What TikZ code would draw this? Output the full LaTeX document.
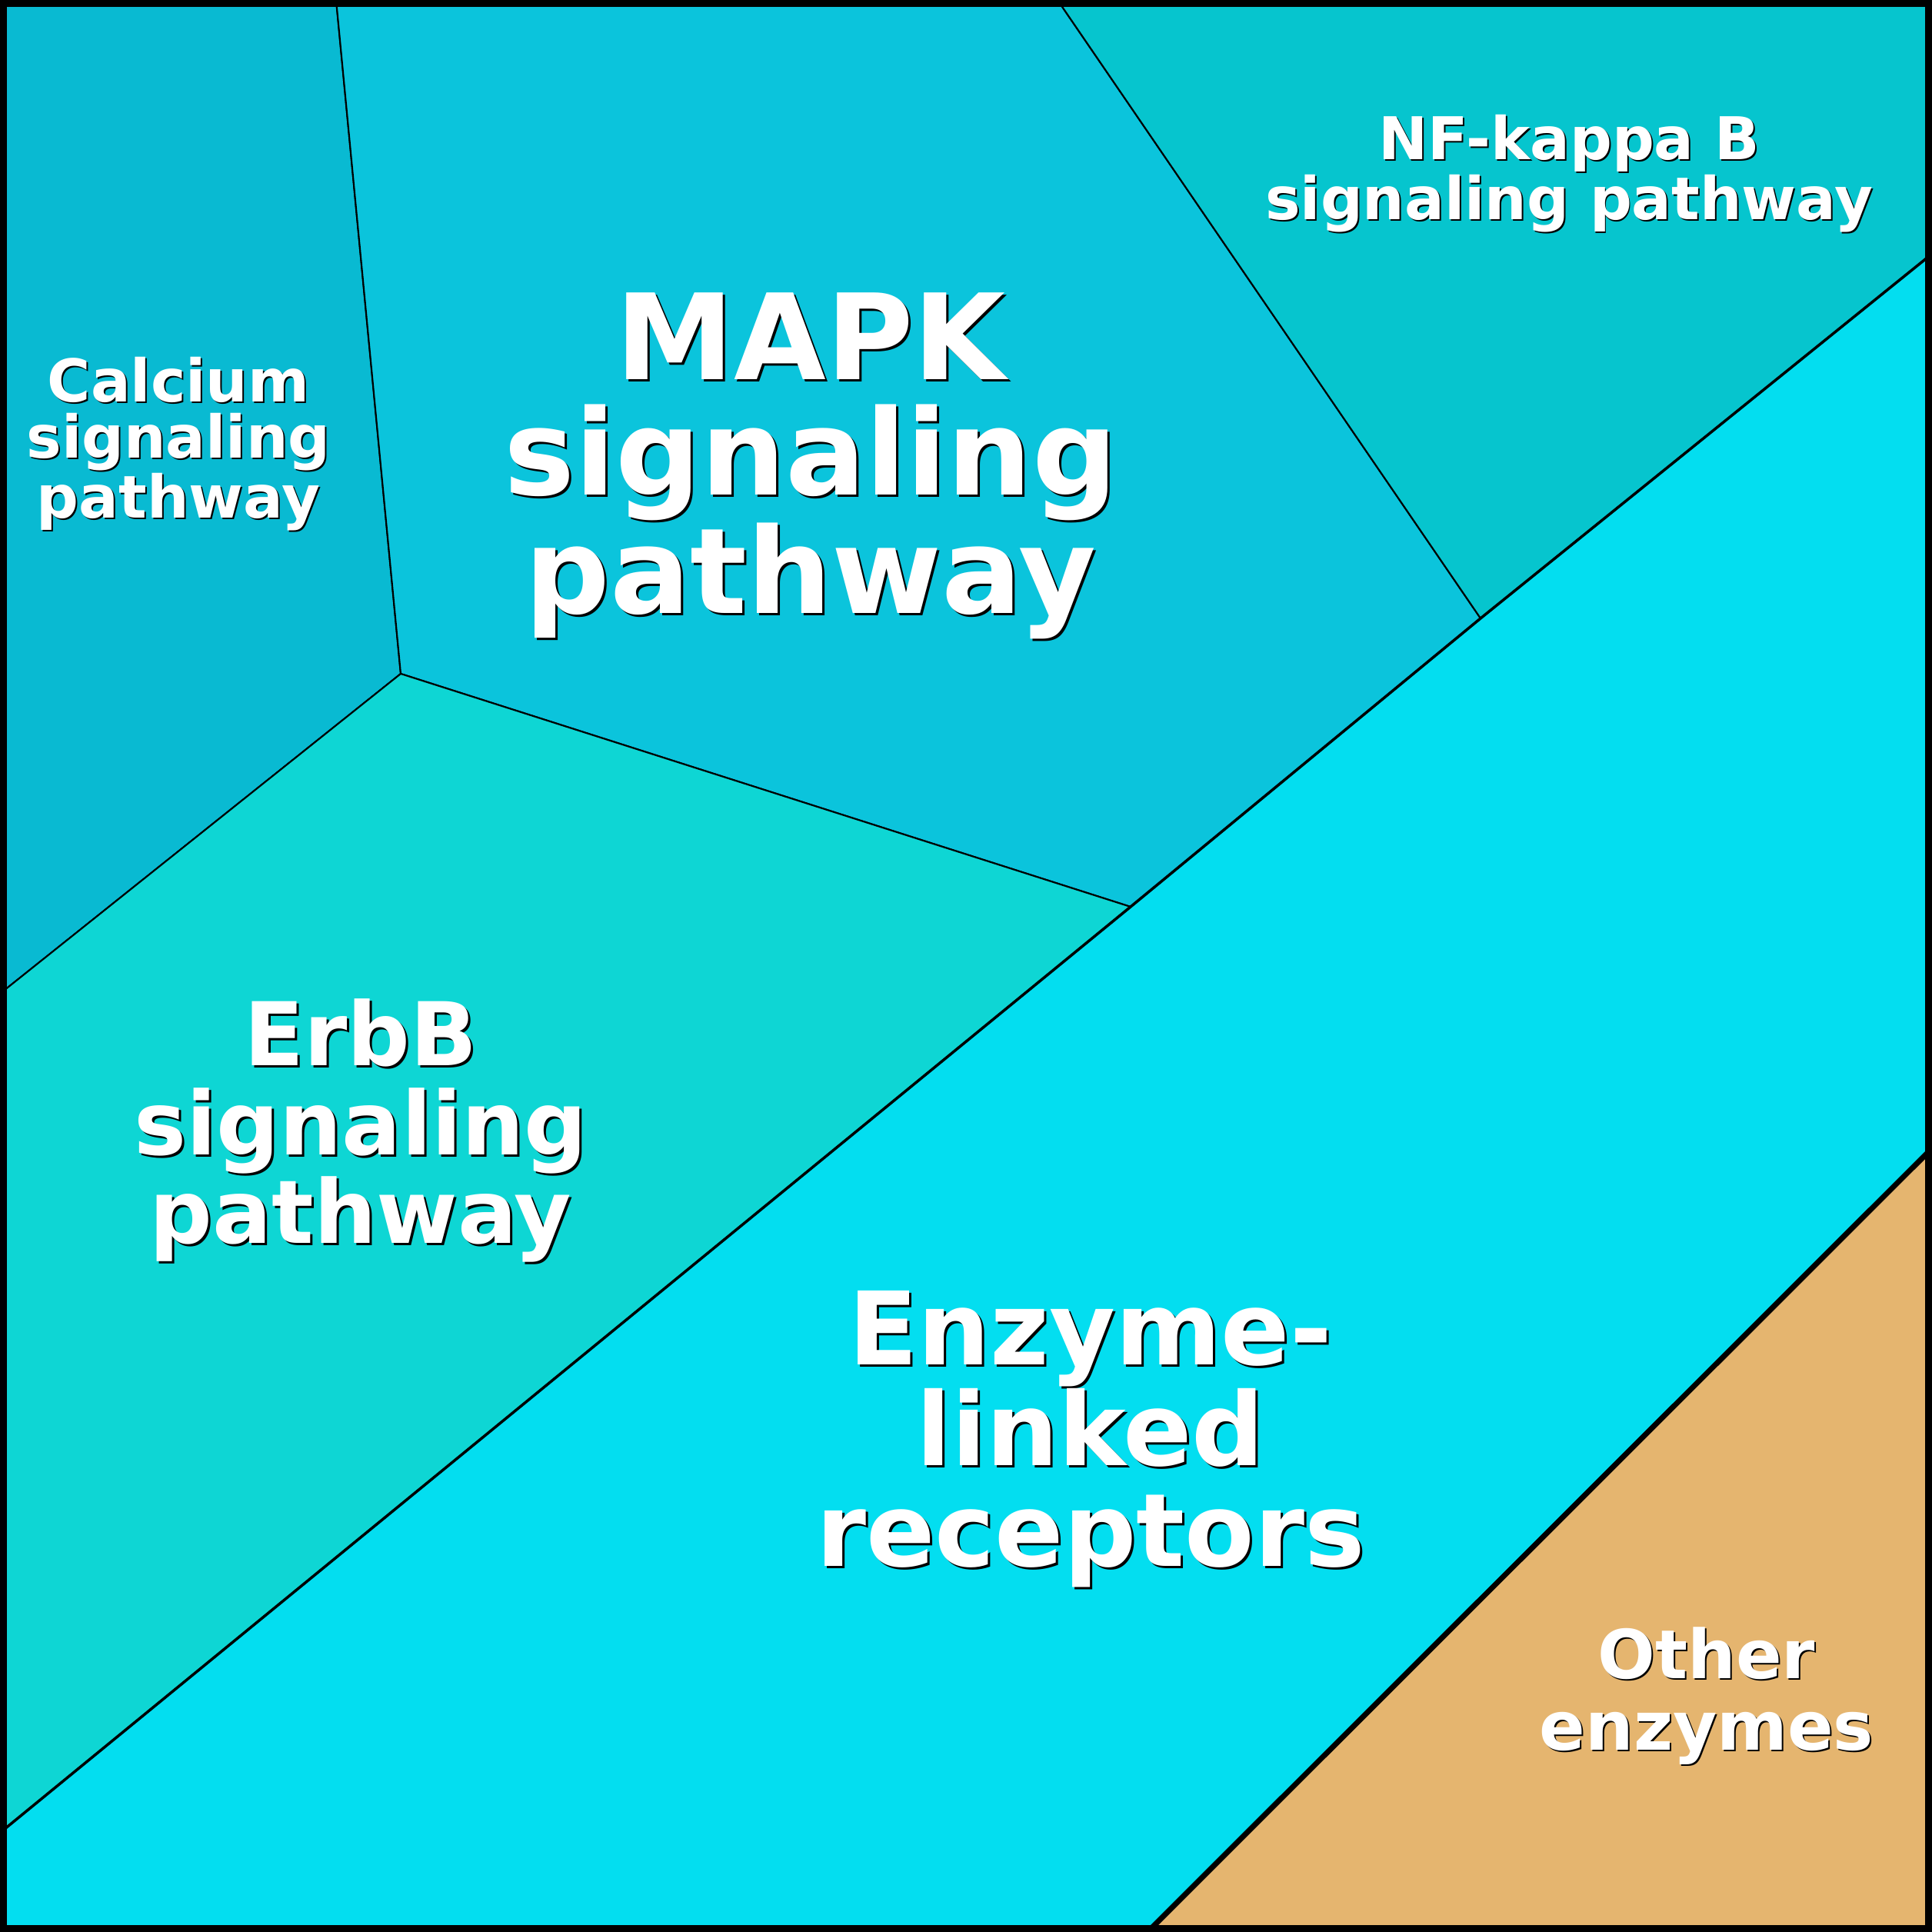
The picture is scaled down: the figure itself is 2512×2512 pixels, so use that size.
\documentclass[tikz,border=0pt]{standalone}
\usepackage{fontspec}
\setmainfont{DejaVu Sans}
\begin{document}
\begin{tikzpicture}[x=0.01cm,y=-0.01cm,
  reg/.style={draw=black,line width=0.6pt,line join=round},
  lab/.style={align=center,inner sep=0pt,font=\bfseries},
  sh/.style={lab,text=black},
  fg/.style={lab,text=white}]
\definecolor{cCa}{HTML}{09BAD2}
\definecolor{cMapk}{HTML}{0BC4DC}
\definecolor{cNf}{HTML}{06C5CE}
\definecolor{cErb}{HTML}{0ED6D4}
\definecolor{cEnz}{HTML}{03DEF0}
\definecolor{cOth}{HTML}{E5B56F}
\useasboundingbox (0,0) rectangle (2512,2512);
\coordinate (A) at (437,0);
\coordinate (B) at (521,876);
\coordinate (C) at (1375,0);
\coordinate (D) at (1925,804);
\coordinate (E) at (1470,1179);
\coordinate (F) at (0,1292);
\coordinate (G) at (2512,330);
\coordinate (H) at (0,2383);
\coordinate (I) at (2512,1493);
\coordinate (J) at (1492,2512);
\filldraw[reg,fill=cCa] (0,0) -- (A) -- (B) -- (F) -- cycle;
\filldraw[reg,fill=cMapk] (A) -- (C) -- (D) -- (E) -- (B) -- cycle;
\filldraw[reg,fill=cNf] (C) -- (2512,0) -- (G) -- (D) -- cycle;
\filldraw[reg,fill=cErb] (F) -- (B) -- (E) -- (H) -- cycle;
\filldraw[reg,fill=cEnz,line width=1pt] (H) -- (E) -- (D) -- (G) -- (I) -- (J) -- (0,2512) -- cycle;
\filldraw[reg,fill=cOth,line width=2pt] (I) -- (2512,2512) -- (J) -- cycle;
\draw[line width=5pt] (0,0) rectangle (2512,2512);

\node[sh,font=\bfseries\fontsize{21.8}{20.8}\selectfont] (caS) at (234,579) {Calcium\\signaling\\pathway};
\node[fg,font=\bfseries\fontsize{21.8}{20.8}\selectfont] (ca) at (232,577) {Calcium\\signaling\\pathway};
\node[sh,font=\bfseries\fontsize{44}{42.4}\selectfont] (mkS) at (1057,609) {MAPK\\signaling\\pathway};
\node[fg,font=\bfseries\fontsize{44}{42.4}\selectfont] (mk) at (1054,606) {MAPK\\signaling\\pathway};
\node[sh,font=\bfseries\fontsize{21.8}{20.5}\selectfont] (nfS) at (2042,228) {NF-kappa B\\signaling pathway};
\node[fg,font=\bfseries\fontsize{21.8}{20.5}\selectfont] (nf) at (2040,226) {NF-kappa B\\signaling pathway};
\node[sh,font=\bfseries\fontsize{32.5}{32.8}\selectfont] (erS) at (472,1473) {ErbB\\signaling\\pathway};
\node[fg,font=\bfseries\fontsize{32.5}{32.8}\selectfont] (er) at (469,1470) {ErbB\\signaling\\pathway};
\node[sh,font=\bfseries\fontsize{37.5}{37.3}\selectfont] (enS) at (1421,1874) {Enzyme-\\linked\\receptors};
\node[fg,font=\bfseries\fontsize{37.5}{37.3}\selectfont] (en) at (1418,1871) {Enzyme-\\linked\\receptors};
\node[sh,font=\bfseries\fontsize{25}{26.4}\selectfont] (otS) at (2221,2207) {Other\\enzymes};
\node[fg,font=\bfseries\fontsize{25}{26.4}\selectfont] (ot) at (2219,2205) {Other\\enzymes};
\end{tikzpicture}
\end{document}
